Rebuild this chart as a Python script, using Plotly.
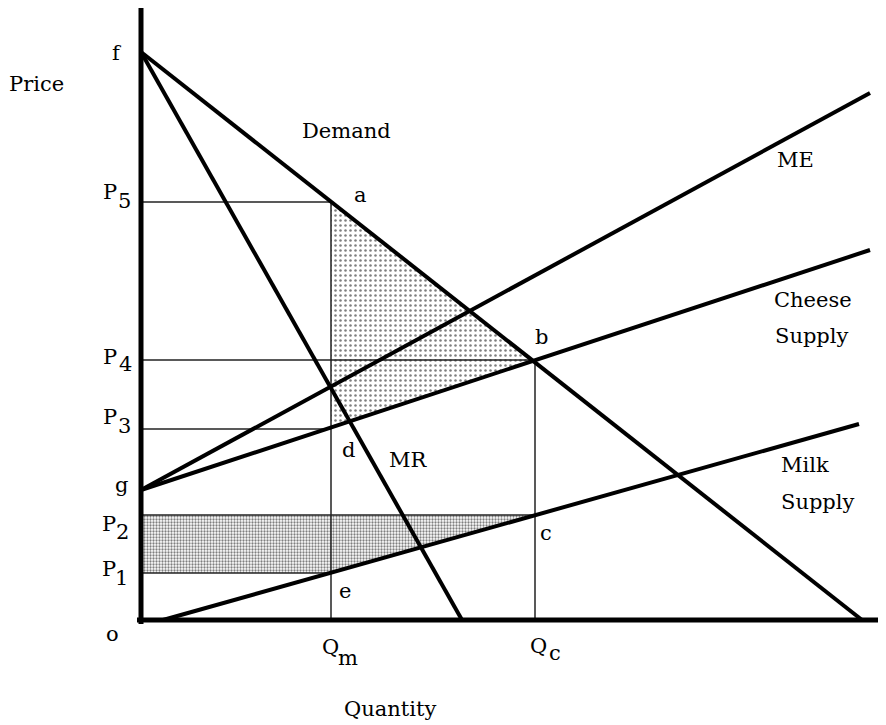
import plotly.graph_objects as go

# ---- data (economic units: quantity to the right, price upward) ----
price_f = 568          # demand / MR intercept on price axis
demand_q0 = 721        # demand intercept on quantity axis
mr_q0 = 321            # MR intercept on quantity axis
price_g = 130          # ME / cheese supply intercept
me_end = (729, 527)
cheese_end = (729, 370)
milk_start = (22, 0)
milk_end = (718, 196)

Qm = 190
Qc = 394
P1, P2, P3, P4, P5 = 47, 105, 191, 260, 418

axis_top = 612
axis_right = 745

FONT = "DejaVu Serif"
FS = 21

fig = go.Figure()

# shaded regions
fig.add_trace(go.Scatter(
    x=[Qm, Qc, Qm, Qm], y=[P5, P4, P3, P5], mode="lines",
    line=dict(width=0), fill="toself", fillcolor="white",
    fillpattern=dict(shape=".", size=5, solidity=0.2, fgcolor="black", bgcolor="white"),
    hoverinfo="skip"))
fig.add_trace(go.Scatter(
    x=[0, Qc, Qm, 0, 0], y=[P2, P2, P1, P1, P2], mode="lines",
    line=dict(width=0), fill="toself", fillcolor="white",
    fillpattern=dict(shape=".", size=3, solidity=0.45, fgcolor="black", bgcolor="white"),
    hoverinfo="skip"))

# thin guide lines
thin = dict(color="#222", width=1.5)
guides = [
    ([0, Qm], [P5, P5]), ([0, Qc], [P4, P4]), ([0, Qm], [P3, P3]),
    ([0, Qc], [P2, P2]), ([0, Qm], [P1, P1]),
    ([Qm, Qm], [0, P5]), ([Qc, Qc], [0, P4]),
]
for gx, gy in guides:
    fig.add_trace(go.Scatter(x=gx, y=gy, mode="lines", line=thin, hoverinfo="skip"))

# thick curves
thick = dict(color="black", width=4)
curves = [
    ([0, demand_q0], [price_f, 0]),
    ([0, mr_q0], [price_f, 0]),
    ([0, me_end[0]], [price_g, me_end[1]]),
    ([0, cheese_end[0]], [price_g, cheese_end[1]]),
    ([milk_start[0], milk_end[0]], [milk_start[1], milk_end[1]]),
]
for cx, cy in curves:
    fig.add_trace(go.Scatter(x=cx, y=cy, mode="lines", line=thick, hoverinfo="skip"))

# axes
fig.add_trace(go.Scatter(x=[0, 0], y=[-4, axis_top], mode="lines",
                         line=dict(color="black", width=5), hoverinfo="skip"))
fig.add_trace(go.Scatter(x=[-4, axis_right], y=[0, 0], mode="lines",
                         line=dict(color="black", width=5), hoverinfo="skip"))

labels = [
    ("Price", -105, 536), ("f", -24, 567),
    ("P", -31, 428.5), ("5", -17, 419.5),
    ("P", -31, 263), ("4", -16, 256),
    ("P", -31, 203), ("3", -17, 194),
    ("g", -20, 135),
    ("P", -32, 96.5), ("2", -19, 88),
    ("P", -32, 51.5), ("1", -19.5, 42.5),
    ("o", -29, -14),
    ("Demand", 205, 489), ("a", 219, 425), ("ME", 654, 460),
    ("b", 400, 283), ("Cheese", 672, 320), ("Supply", 671, 284),
    ("Milk", 664, 155), ("Supply", 677, 118),
    ("c", 405, 87), ("d", 207, 170), ("MR", 267, 160), ("e", 204, 29),
    ("Q", 189, -27), ("m", 207, -38),
    ("Q", 397, -26), ("c", 414, -33),
    ("Quantity", 249, -89),
]
for t, lx, ly in labels:
    fig.add_annotation(x=lx, y=ly, text=t, showarrow=False, xanchor="center", yanchor="middle",
                       font=dict(family=FONT, size=FS, color="black"))

# page body has an 8px margin: size the figure so it ends at the window edge
fig.update_layout(
    width=878, height=717, margin=dict(l=0, r=0, t=0, b=0),
    paper_bgcolor="white", plot_bgcolor="white", showlegend=False,
    xaxis=dict(range=[-133, 745], visible=False, fixedrange=True),
    yaxis=dict(range=[-105, 612], visible=False, fixedrange=True),
)

fig.write_html("out.html")
